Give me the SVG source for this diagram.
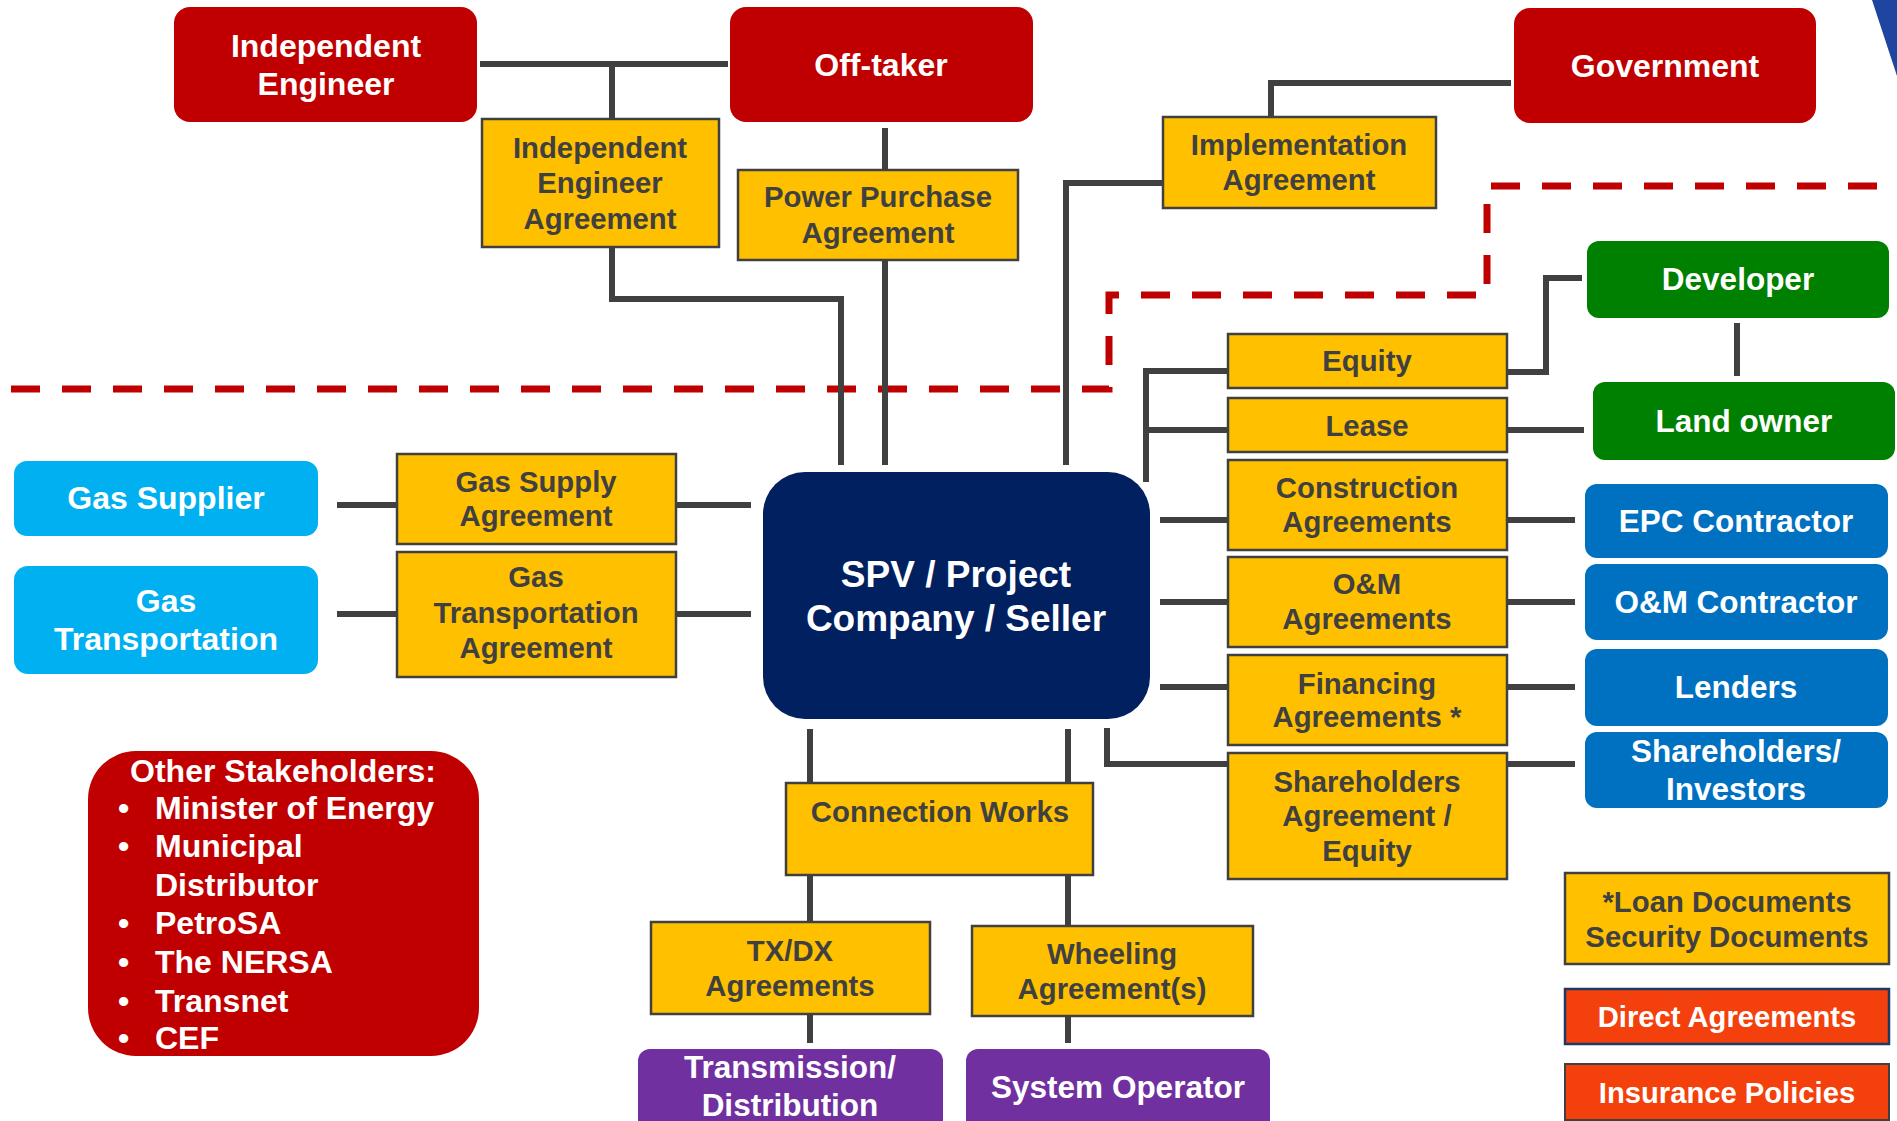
<svg xmlns="http://www.w3.org/2000/svg" width="1897" height="1121" viewBox="0 0 1897 1121">
<style>
text{font-family:"Liberation Sans",Arial,sans-serif;font-weight:bold;text-anchor:middle}
.red{fill:#C00000}
.yel{fill:#FFC000;stroke:#404040;stroke-width:2.5}
.cyan{fill:#00B0F0}
.grn{fill:#008000}
.blu{fill:#0070C0}
.pur{fill:#7030A0}
.org{fill:#F4400C;stroke:#203864;stroke-width:2.5}
.org2{fill:#F4400C;stroke:#404040;stroke-width:2}
.navy{fill:#002060}
.w{fill:#FFFFFF}
.d{fill:#404040}
.f32{font-size:32px}
.f31{font-size:31.5px}
.f29{font-size:29.3px}
.f28{font-size:29.2px}
.conn{fill:none;stroke:#404040;stroke-width:6}
.dash{fill:none;stroke:#C00000;stroke-width:7;stroke-dasharray:29 22}
</style>
<rect width="1897" height="1121" fill="#FFFFFF"/>
<polygon points="1872,0 1897,0 1897,76" fill="#1E46A0"/>

<g id="boundary">
<path class="dash" d="M11 389 H1109 V295 H1487 V186 H1910"/>
</g>

<g id="connectors">
<path class="conn" d="M480 64 H728"/>
<path class="conn" d="M612 64 V119"/>
<path class="conn" d="M612 247 V299 H841 V465"/>
<path class="conn" d="M885 128 V170"/>
<path class="conn" d="M885 260 V465"/>
<path class="conn" d="M1271 117 V83 H1511"/>
<path class="conn" d="M1162 183 H1066 V465"/>
<path class="conn" d="M337 505 H397"/>
<path class="conn" d="M337 614 H397"/>
<path class="conn" d="M676 505 H751"/>
<path class="conn" d="M676 614 H751"/>
<path class="conn" d="M1228 371 H1146 V482"/>
<path class="conn" d="M1146 430 H1228"/>
<path class="conn" d="M1507 372 H1546 V278 H1582"/>
<path class="conn" d="M1737 323 V376"/>
<path class="conn" d="M1507 430 H1584"/>
<path class="conn" d="M1160 520 H1228"/>
<path class="conn" d="M1507 520 H1575"/>
<path class="conn" d="M1160 602 H1228"/>
<path class="conn" d="M1507 602 H1575"/>
<path class="conn" d="M1160 687 H1228"/>
<path class="conn" d="M1507 687 H1575"/>
<path class="conn" d="M1107 728 V764 H1228"/>
<path class="conn" d="M1507 764 H1575"/>
<path class="conn" d="M810 729 V783"/>
<path class="conn" d="M1068 729 V783"/>
<path class="conn" d="M810 875 V922"/>
<path class="conn" d="M1068 875 V926"/>
<path class="conn" d="M810 1014 V1043"/>
<path class="conn" d="M1068 1016 V1043"/>
</g>

<g id="independent-engineer">
<rect class="red" x="174" y="7" width="303" height="115" rx="16"/>
<text class="w f32" x="326" y="57">Independent</text>
<text class="w f32" x="326" y="95">Engineer</text>
</g>
<g id="off-taker">
<rect class="red" x="730" y="7" width="303" height="115" rx="16"/>
<text class="w f32" x="881" y="76">Off-taker</text>
</g>
<g id="government">
<rect class="red" x="1514" y="8" width="302" height="115" rx="16"/>
<text class="w f32" x="1665" y="77">Government</text>
</g>

<g id="ie-agreement">
<rect class="yel" x="482" y="119" width="237" height="128"/>
<text class="d f29" x="600" y="158">Independent</text>
<text class="d f29" x="600" y="193">Engineer</text>
<text class="d f29" x="600" y="229">Agreement</text>
</g>
<g id="ppa">
<rect class="yel" x="738" y="170" width="280" height="90"/>
<text class="d f29" x="878" y="207">Power Purchase</text>
<text class="d f29" x="878" y="243">Agreement</text>
</g>
<g id="implementation-agreement">
<rect class="yel" x="1163" y="117" width="273" height="91"/>
<text class="d f29" x="1299" y="155">Implementation</text>
<text class="d f29" x="1299" y="190">Agreement</text>
</g>

<g id="developer">
<rect class="grn" x="1587" y="241" width="302" height="77" rx="12"/>
<text class="w f31" x="1738" y="290">Developer</text>
</g>
<g id="land-owner">
<rect class="grn" x="1593" y="382" width="302" height="78" rx="12"/>
<text class="w f31" x="1744" y="432">Land owner</text>
</g>

<g id="gas-supplier">
<rect class="cyan" x="14" y="461" width="304" height="75" rx="13"/>
<text class="w f32" x="166" y="509">Gas Supplier</text>
</g>
<g id="gas-transportation">
<rect class="cyan" x="14" y="566" width="304" height="108" rx="14"/>
<text class="w f32" x="166" y="612">Gas</text>
<text class="w f32" x="166" y="650">Transportation</text>
</g>
<g id="gsa">
<rect class="yel" x="397" y="454" width="279" height="90"/>
<text class="d f29" x="536" y="492">Gas Supply</text>
<text class="d f29" x="536" y="526">Agreement</text>
</g>
<g id="gta">
<rect class="yel" x="397" y="552" width="279" height="125"/>
<text class="d f29" x="536" y="587">Gas</text>
<text class="d f29" x="536" y="623">Transportation</text>
<text class="d f29" x="536" y="658">Agreement</text>
</g>

<g id="spv">
<rect class="navy" x="763" y="472" width="387" height="247" rx="42"/>
<text class="w" font-size="37" x="956" y="587">SPV / Project</text>
<text class="w" font-size="37" x="956" y="631">Company / Seller</text>
</g>

<g id="equity">
<rect class="yel" x="1228" y="334" width="279" height="54"/>
<text class="d f29" x="1367" y="371">Equity</text>
</g>
<g id="lease">
<rect class="yel" x="1228" y="398" width="279" height="54"/>
<text class="d f29" x="1367" y="436">Lease</text>
</g>
<g id="construction-agreements">
<rect class="yel" x="1228" y="460" width="279" height="90"/>
<text class="d f29" x="1367" y="498">Construction</text>
<text class="d f29" x="1367" y="532">Agreements</text>
</g>
<g id="om-agreements">
<rect class="yel" x="1228" y="557" width="279" height="90"/>
<text class="d f29" x="1367" y="594">O&amp;M</text>
<text class="d f29" x="1367" y="629">Agreements</text>
</g>
<g id="financing-agreements">
<rect class="yel" x="1228" y="655" width="279" height="90"/>
<text class="d f29" x="1367" y="694">Financing</text>
<text class="d f29" x="1367" y="727">Agreements *</text>
</g>
<g id="shareholders-agreement">
<rect class="yel" x="1228" y="753" width="279" height="126"/>
<text class="d f29" x="1367" y="792">Shareholders</text>
<text class="d f29" x="1367" y="826">Agreement /</text>
<text class="d f29" x="1367" y="861">Equity</text>
</g>

<g id="epc-contractor">
<rect class="blu" x="1585" y="484" width="303" height="74" rx="12"/>
<text class="w f31" x="1736" y="532">EPC Contractor</text>
</g>
<g id="om-contractor">
<rect class="blu" x="1585" y="564" width="303" height="76" rx="12"/>
<text class="w f31" x="1736" y="613">O&amp;M Contractor</text>
</g>
<g id="lenders">
<rect class="blu" x="1585" y="649" width="303" height="77" rx="12"/>
<text class="w f31" x="1736" y="698">Lenders</text>
</g>
<g id="shareholders-investors">
<rect class="blu" x="1585" y="732" width="303" height="76" rx="12"/>
<text class="w f31" x="1736" y="762">Shareholders/</text>
<text class="w f31" x="1736" y="800">Investors</text>
</g>

<g id="connection-works">
<rect class="yel" x="786" y="783" width="307" height="92"/>
<text class="d f29" x="940" y="822">Connection Works</text>
</g>
<g id="txdx-agreements">
<rect class="yel" x="651" y="922" width="279" height="92"/>
<text class="d f29" x="790" y="961">TX/DX</text>
<text class="d f29" x="790" y="996">Agreements</text>
</g>
<g id="wheeling-agreements">
<rect class="yel" x="972" y="926" width="281" height="90"/>
<text class="d f29" x="1112" y="964">Wheeling</text>
<text class="d f29" x="1112" y="999">Agreement(s)</text>
</g>
<g id="transmission-distribution">
<rect class="pur" x="638" y="1049" width="305" height="110" rx="12"/>
<text class="w f31" x="790" y="1078">Transmission/</text>
<text class="w f31" x="790" y="1116">Distribution</text>
</g>
<g id="system-operator">
<rect class="pur" x="966" y="1049" width="304" height="110" rx="12"/>
<text class="w f31" x="1118" y="1098">System Operator</text>
</g>

<g id="other-stakeholders">
<rect class="red" x="88" y="751" width="391" height="305" rx="48"/>
<text class="w" font-size="32" x="283" y="782">Other Stakeholders:</text>
<g class="w" font-size="32">
<text x="118" y="819" style="text-anchor:start">•</text>
<text x="155" y="819" style="text-anchor:start">Minister of Energy</text>
<text x="118" y="857" style="text-anchor:start">•</text>
<text x="155" y="857" style="text-anchor:start">Municipal</text>
<text x="155" y="896" style="text-anchor:start">Distributor</text>
<text x="118" y="934" style="text-anchor:start">•</text>
<text x="155" y="934" style="text-anchor:start">PetroSA</text>
<text x="118" y="973" style="text-anchor:start">•</text>
<text x="155" y="973" style="text-anchor:start">The NERSA</text>
<text x="118" y="1012" style="text-anchor:start">•</text>
<text x="155" y="1012" style="text-anchor:start">Transnet</text>
<text x="118" y="1049" style="text-anchor:start">•</text>
<text x="155" y="1049" style="text-anchor:start">CEF</text>
</g>
</g>

<g id="loan-documents">
<rect class="yel" x="1565" y="873" width="324" height="91"/>
<text class="d f29" x="1727" y="912">*Loan Documents</text>
<text class="d f29" x="1727" y="947">Security Documents</text>
</g>
<g id="direct-agreements">
<rect class="org" x="1565" y="989" width="324" height="55"/>
<text class="w f28" x="1727" y="1027">Direct Agreements</text>
</g>
<g id="insurance-policies">
<rect class="org2" x="1565" y="1064" width="324" height="56"/>
<text class="w f28" x="1727" y="1103">Insurance Policies</text>
</g>
</svg>
